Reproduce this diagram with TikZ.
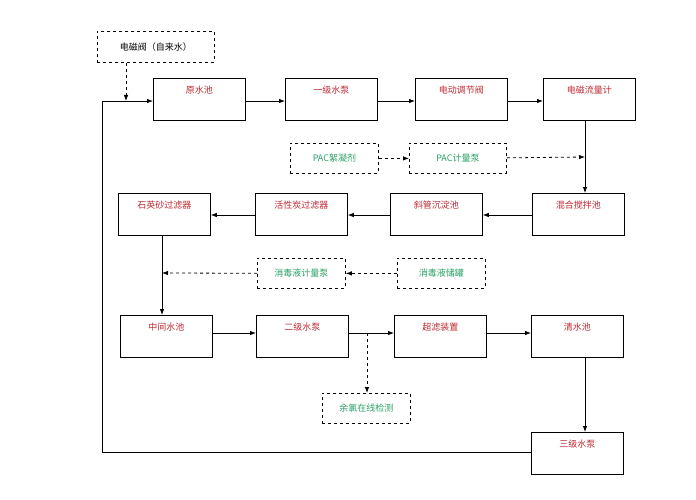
\documentclass[tikz,border=0pt]{standalone}
\usepackage{fontspec}
\setmainfont{Noto Sans CJK SC}
\usetikzlibrary{arrows.meta}
\definecolor{txtred}{RGB}{190,40,50}
\definecolor{txtgreen}{RGB}{40,160,100}
\tikzset{
  box/.style={draw, thick, minimum width=92pt, minimum height=42pt, anchor=north west, font=\small},
  red box/.style={box, label={[anchor=north, yshift=-4pt, txtred, font=\small]north:#1}},
  aux box/.style={draw, thick, dashed, minimum width=88pt, minimum height=30pt, anchor=north west, text=txtgreen, font=\small},
  flow/.style={draw, thick, -{Latex[length=6pt]}},
  feed/.style={draw, thick, dashed, -{Latex[length=6pt]}}
}
\begin{document}
\begin{tikzpicture}[x=1pt, y=-1pt]
  \useasboundingbox (0,0) rectangle (696,500);
  % main line
  \node[red box=原水池] (pool) at (153,78) {};
  \node[red box=一级水泵] (pump1) at (285,78) {};
  \node[red box=电动调节阀] (valve) at (415,78) {};
  \node[red box=电磁流量计] (meter) at (543,78) {};
  \node[red box=混合搅拌池] (mix) at (532,193) {};
  \node[red box=斜管沉淀池] (settle) at (390,193) {};
  \node[red box=活性炭过滤器] (carbon) at (255,193) {};
  \node[red box=石英砂过滤器] (sand) at (118,193) {};
  \node[red box=中间水池] (mid) at (120,315) {};
  \node[red box=二级水泵] (pump2) at (256,315) {};
  \node[red box=超滤装置] (uf) at (394,315) {};
  \node[red box=清水池] (clean) at (531,315) {};
  \node[red box=三级水泵] (pump3) at (531,432) {};
  % dosing
  \node[aux box, text=black, minimum width=117pt, minimum height=31pt] (tap) at (97,31) {电磁阀（自来水）};
  \node[aux box] (pac) at (290,143) {PAC絮凝剂};
  \node[aux box, minimum width=97pt] (pacpump) at (409,143) {PAC计量泵};
  \node[aux box] (dispump) at (257,258) {消毒液计量泵};
  \node[aux box] (distank) at (397,258) {消毒液储罐};
  \node[aux box] (cl) at (322,393) {余氯在线检测};
  \coordinate (inlet) at (126,101);
  \coordinate (pacin) at (585,157);
  \coordinate (disin) at (162,273);
  \coordinate (clout) at (367,333);
  % connectors
  \path[flow] (pool.east |- 0,101) -- (pump1.west |- 0,101);
  \path[flow] (pump1.east |- 0,101) -- (valve.west |- 0,101);
  \path[flow] (valve.east |- 0,101) -- (meter.west |- 0,101);
  \path[flow] (meter.south -| pacin) -- (mix.north -| pacin);
  \path[flow] (mix.west |- 0,215) -- (settle.east |- 0,215);
  \path[flow] (settle.west |- 0,215) -- (carbon.east |- 0,215);
  \path[flow] (carbon.west |- 0,215) -- (sand.east |- 0,215);
  \path[flow] (sand.south -| disin) -- (mid.north -| disin);
  \path[flow] (mid.east |- 0,333) -- (pump2.west |- 0,333);
  \path[flow] (pump2.east |- 0,333) -- (uf.west |- 0,333);
  \path[flow] (uf.east |- 0,333) -- (clean.west |- 0,333);
  \path[flow] (clean.south -| 585,0) -- (pump3.north -| 585,0);
  \path[flow] (pump3.west |- 0,452) -| (102,101) -- (pool.west |- 0,101);
  \path[feed] (tap.south -| inlet) -- (inlet);
  \path[feed] (pac) -- (pacpump);
  \path[feed] (pacpump) -- (pacin);
  \path[feed] (distank) -- (dispump);
  \path[feed] (dispump) -- (disin);
  \path[feed] (clout) -- (cl.north -| clout);
\end{tikzpicture}
\end{document}
